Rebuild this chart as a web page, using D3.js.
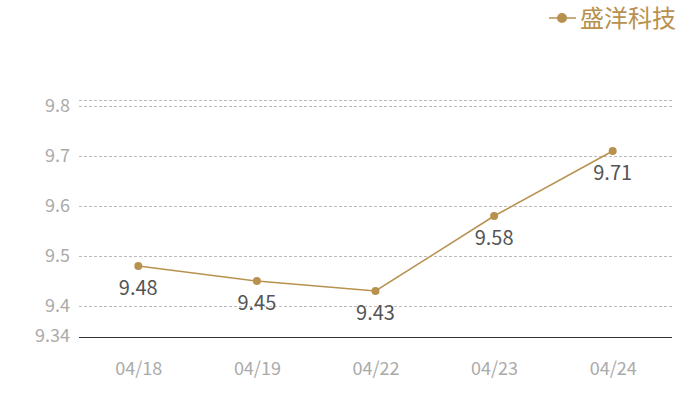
<!DOCTYPE html>
<html><head><meta charset="utf-8">
<script src="https://cdn.jsdelivr.net/npm/d3@7"></script>
<style>body{margin:0;background:#fff;}svg{display:block;font-family:"Noto Sans CJK SC","Open Sans",sans-serif;}</style>
</head><body>
<svg id="c" width="700" height="400"></svg>
<script>
const categories = ["04/18","04/19","04/22","04/23","04/24"];
const values = [9.48, 9.45, 9.43, 9.58, 9.71];
const yTicks = [9.34, 9.4, 9.5, 9.6, 9.7, 9.8];
const seriesName = "盛洋科技";
const color = "#b8914f";

const svg = d3.select("#c");
const x = d3.scalePoint().domain(categories).range([79, 672]).padding(0.5);
const y = d3.scaleLinear().domain([9.34, 9.8]).range([336, 106]);

// grid (plus top border of plot area)
const gridYs = yTicks.filter(t => t !== 9.34).map(t => Math.round(y(t)));
gridYs.push(100);
svg.append("g").selectAll("line").data(gridYs).join("line")
  .attr("x1", 79).attr("x2", 672)
  .attr("y1", d => d + 0.5).attr("y2", d => d + 0.5)
  .attr("stroke", "#bbb").attr("stroke-dasharray", "3,2");

// y axis labels
svg.append("g").selectAll("text").data(yTicks).join("text")
  .attr("x", 70).attr("y", d => y(d)).attr("dy", "0.35em")
  .attr("text-anchor", "end").attr("fill", "#aaa").attr("font-size", 18)
  .text(d => d);

// x axis
const xa = svg.append("g").attr("transform", "translate(0,337)")
  .call(d3.axisBottom(x).tickSize(0).tickPadding(25));
xa.select(".domain").attr("stroke", "#333").attr("d", "M79,0.5H672");
xa.selectAll("text").attr("fill", "#aaa").attr("font-size", 18)
  .attr("font-family", '"Noto Sans CJK SC","Open Sans",sans-serif');

// line
const line = d3.line().x((d, i) => x(categories[i])).y(d => y(d));
svg.append("path").datum(values).attr("d", line)
  .attr("fill", "none").attr("stroke", color).attr("stroke-width", 1.5);

svg.append("g").selectAll("circle").data(values).join("circle")
  .attr("cx", (d, i) => x(categories[i])).attr("cy", d => y(d)).attr("r", 4)
  .attr("fill", color);

svg.append("g").selectAll("text").data(values).join("text")
  .attr("x", (d, i) => x(categories[i])).attr("y", d => y(d) + 22).attr("dy", "0.35em")
  .attr("text-anchor", "middle").attr("fill", "#555").attr("font-size", 20)
  .text(d => d.toFixed(2));

// legend
const lg = svg.append("g");
lg.append("line").attr("x1", 549).attr("x2", 576).attr("y1", 18).attr("y2", 18)
  .attr("stroke", color).attr("stroke-width", 1.5);
lg.append("circle").attr("cx", 562).attr("cy", 18).attr("r", 5).attr("fill", color);
lg.append("text").attr("x", 580).attr("y", 19).attr("dy", "0.35em")
  .attr("fill", color).attr("font-size", 24).text(seriesName);
</script>
</body></html>
